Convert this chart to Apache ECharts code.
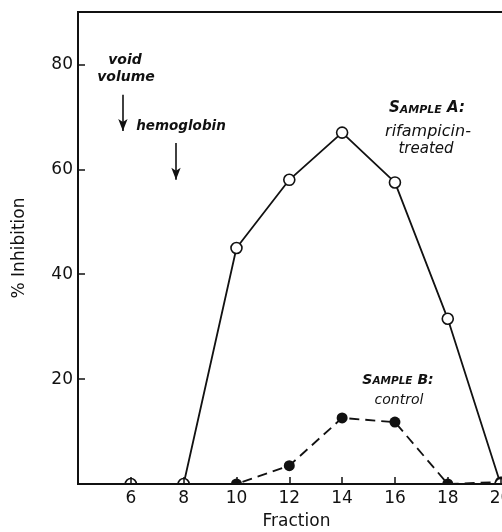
<!DOCTYPE html>
<html>
<head>
<meta charset="utf-8">
<script src="https://cdn.jsdelivr.net/npm/echarts@6/dist/echarts.min.js"></script>
<style>
html,body{margin:0;padding:0;background:#fff;}
#c{width:502px;height:532px;}
</style>
</head>
<body>
<div id="c"></div>
<script>
const fractions = [6, 8, 10, 12, 14, 16, 18, 20];
const sampleA = [0, 0, 45, 58, 67, 57.5, 31.5, 0];
const sampleB = [0, 0, 0, 3.5, 12.6, 11.8, 0, 0.4];
const xTicks = [6, 8, 10, 12, 14, 16, 18, 20];
const yTicks = [20, 40, 60, 80];

const FONT = 'DejaVu Sans';
const INK = '#111';
const chart = echarts.init(document.getElementById('c'));

function pairs(xs, ys) { return xs.map((x, i) => [x, ys[i]]); }
function txt(x, y, text, font) {
  return { type: 'text', z: 20, x: x, y: y, style: { text: text, font: font, fill: INK, align: 'center', verticalAlign: 'middle' } };
}
function smallCaps(x, y, first, rest, tail, big, small) {
  return { type: 'text', z: 20, x: x, y: y, style: {
    text: '{b|' + first + '}{s|' + rest + '}{b| ' + tail + '}', fill: INK, align: 'center', verticalAlign: 'middle',
    rich: {
      b: { font: 'italic bold ' + big + 'px ' + FONT, fill: INK, verticalAlign: 'bottom' },
      s: { font: 'italic bold ' + small + 'px ' + FONT, fill: INK, verticalAlign: 'bottom' }
    } } };
}

chart.setOption({
  animation: false,
  backgroundColor: '#fff',
  grid: { left: 78, right: -25, top: 12, bottom: 48, outerBoundsMode: 'none', containLabel: false,
          show: true, borderColor: INK, borderWidth: 2, backgroundColor: 'transparent' },
  xAxis: {
    type: 'value', min: 4, max: 21, zlevel: 1, z: 10,
    name: 'Fraction', nameLocation: 'middle', nameGap: 29,
    nameTextStyle: { color: INK, fontFamily: FONT, fontSize: 17, padding: [0, 12, 0, 0] },
    axisLine: { show: true, lineStyle: { color: INK, width: 2 } },
    axisTick: { show: true, inside: true, length: 7, customValues: xTicks, lineStyle: { color: INK, width: 1.5 } },
    axisLabel: { customValues: xTicks, color: INK, fontFamily: FONT, fontSize: 17, margin: 6 },
    splitLine: { show: false }
  },
  yAxis: {
    type: 'value', min: 0, max: 90, zlevel: 1, z: 10,
    name: '% Inhibition', nameLocation: 'middle', nameGap: 50,
    nameTextStyle: { color: INK, fontFamily: FONT, fontSize: 17 },
    axisLine: { show: true, lineStyle: { color: INK, width: 2 } },
    axisTick: { show: true, inside: true, length: 7, customValues: yTicks, lineStyle: { color: INK, width: 1.5 } },
    axisLabel: { customValues: yTicks, color: INK, fontFamily: FONT, fontSize: 17, margin: 5 },
    splitLine: { show: false }
  },
  series: [
    {
      name: 'Sample B', type: 'line', z: 2,
      data: pairs(fractions, sampleB),
      symbol: 'circle', symbolSize: 11,
      itemStyle: { color: INK },
      lineStyle: { color: INK, width: 1.8, type: [10, 6] },
      clip: false,
      markLine: {
        silent: true, symbol: ['none', 'arrow'], symbolSize: [7, 12],
        label: { show: false },
        lineStyle: { color: INK, width: 1.6, type: 'solid' },
        data: [
          [{ coord: [5.70, 74.2] }, { coord: [5.70, 67.3] }],
          [{ coord: [7.71, 65.0] }, { coord: [7.71, 58.0] }]
        ]
      }
    },
    {
      name: 'Sample A', type: 'line', z: 3,
      data: pairs(fractions, sampleA),
      symbol: 'circle', symbolSize: 11,
      itemStyle: { color: '#fff', borderColor: INK, borderWidth: 1.6 },
      lineStyle: { color: INK, width: 1.8 },
      clip: false
    }
  ],
  graphic: [
    { type: 'rect', zlevel: 1, z: 1, shape: { x: 79, y: 485, width: 430, height: 8 }, style: { fill: '#fff' } },
    txt(125, 60, 'void', 'italic bold 14px ' + FONT),
    txt(126, 77, 'volume', 'italic bold 14px ' + FONT),
    txt(181, 126, 'hemoglobin', 'italic bold 13.5px ' + FONT),
    smallCaps(427, 108, 'S', 'AMPLE', 'A:', 15, 11),
    txt(428, 132, 'rifampicin-', 'italic 16px ' + FONT),
    txt(426, 149, 'treated', 'italic 15px ' + FONT),
    smallCaps(398, 380, 'S', 'AMPLE', 'B:', 14, 10.5),
    txt(399, 400, 'control', 'italic 14px ' + FONT)
  ]
});
</script>
</body>
</html>
